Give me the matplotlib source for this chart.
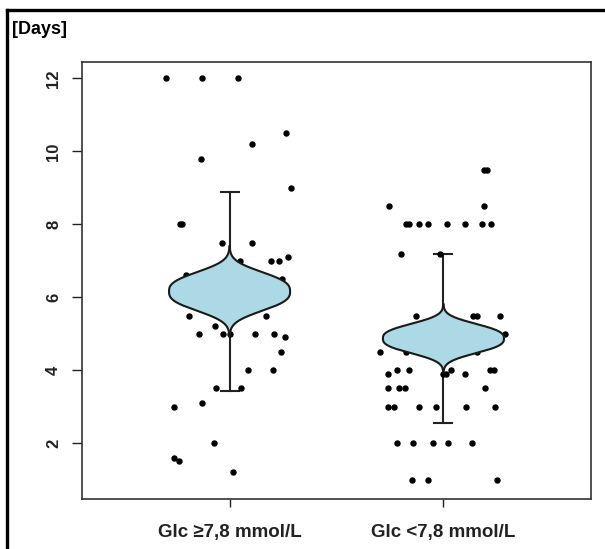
import numpy as np
import matplotlib.pyplot as plt
from matplotlib.lines import Line2D

plt.rcParams['font.family'] = ['Liberation Sans', 'DejaVu Sans']

# categories
groups = ['Glc \u22657,8 mmol/L', 'Glc <7,8 mmol/L']

# group 1 points (days) and jitter offsets from the group centre
g1_days = [12, 12, 12, 10.5, 10.2, 9.8, 9.0, 8.0, 8.0, 7.5, 7.5,
           7.0, 7.0, 7.0, 7.1, 6.6, 6.5, 5.5, 5.5, 5.2,
           5.0, 5.0, 5.0, 5.0, 5.0, 4.9, 4.5, 4.0, 4.0, 3.5, 3.5,
           3.1, 3.0, 2.0, 1.6, 1.5, 1.2]
g1_jit = [-0.298, -0.129, 0.040, 0.264, 0.107, -0.132, 0.286, -0.232, -0.222, -0.034, 0.105,
          0.049, 0.192, 0.233, 0.275, -0.203, 0.246, -0.189, 0.172, -0.066,
          -0.143, -0.033, 0.001, 0.120, 0.207, 0.260, 0.241, 0.085, 0.202, -0.062, 0.052,
          -0.127, -0.261, -0.074, -0.260, -0.235, 0.016]

# group 2 points
g2_days = [9.5, 9.5, 8.5, 8.5,
           8.0, 8.0, 8.0, 8.0, 8.0, 8.0, 8.0, 8.0,
           7.2, 7.2, 5.5, 5.5, 5.5, 5.5, 5.0,
           4.5, 4.5, 4.5, 4.0, 4.0, 4.0, 4.0, 4.0,
           3.9, 3.9, 3.9, 3.9, 3.5, 3.5, 3.5, 3.5,
           3.0, 3.0, 3.0, 3.0, 3.0, 3.0,
           2.0, 2.0, 2.0, 2.0, 2.0, 1.0, 1.0, 1.0]
g2_jit = [0.192, 0.206, -0.255, 0.189,
          -0.174, -0.160, -0.114, -0.070, 0.017, 0.101, 0.182, 0.223,
          -0.198, -0.015, -0.129, 0.140, 0.159, 0.265, 0.290,
          -0.296, -0.174, 0.156, -0.215, -0.159, 0.036, 0.218, 0.237,
          -0.259, 0.0, 0.013, 0.101, -0.259, -0.210, -0.182, 0.195,
          -0.259, -0.231, -0.114, -0.033, 0.105, 0.240,
          -0.215, -0.143, -0.048, 0.022, 0.133, -0.146, -0.072, 0.251]

# mean +/- SD (error bars) and extent of the mean's density "bean"
means = [6.16, 4.87]
sds = [2.73, 2.31]
bean_extent = [1.23, 0.93]
bean_halfwidth = 0.283

fig = plt.figure(figsize=(6.05, 5.49), dpi=100)
ax = fig.add_axes([82 / 605, 1 - 499 / 549, 509 / 605, 437 / 549])

# error bars
for i, (m, s) in enumerate(zip(means, sds)):
    x = i + 1
    ax.plot([x, x], [m - s, m + s], color='#222222', lw=1.5, zorder=1)
    ax.plot([x - 0.042, x + 0.042], [m + s, m + s], color='#222222', lw=1.5, zorder=1)
    ax.plot([x - 0.042, x + 0.042], [m - s, m - s], color='#222222', lw=1.5, zorder=1)

# points
ax.plot(1 + np.array(g1_jit), g1_days, 'o', color='black', ms=3.6, zorder=2)
ax.plot(2 + np.array(g2_jit), g2_days, 'o', color='black', ms=3.6, zorder=2)

# beans
for i, (m, e) in enumerate(zip(means, bean_extent)):
    x = i + 1
    yy = np.linspace(m - e, m + e, 400)
    t = np.abs(yy - m) / e
    w = bean_halfwidth * np.exp(-(t / 0.515) ** 2.7)
    ax.fill_betweenx(yy, x - w, x + w, color='#ADD8E6', lw=0, zorder=3)
    ax.plot(x - w, yy, color='#1a1a1a', lw=1.5, zorder=4)
    ax.plot(x + w, yy, color='#1a1a1a', lw=1.5, zorder=4)

ax.set_xlim(0.31, 2.69)
ax.set_ylim(0.47, 12.45)
ax.set_xticks([1, 2])
ax.set_xticklabels(groups, fontsize=13.5, fontweight='bold')
ax.set_yticks([2, 4, 6, 8, 10, 12])
ax.set_yticklabels(['2', '4', '6', '8', '10', '12'], fontsize=12, fontweight='bold',
                   rotation=90, va='center')
ax.tick_params(axis='y', length=7, width=1, pad=8, colors='#222222')
ax.tick_params(axis='x', length=6, width=1, pad=12, colors='#222222')
for sp in ax.spines.values():
    sp.set_linewidth(1.2)
    sp.set_color('#333333')

# frame around the figure (left and top edges)
fig.add_artist(Line2D([7 / 605, 7 / 605], [0, 1 - 10 / 549], color='black', lw=2.4))
fig.add_artist(Line2D([7 / 605, 1], [1 - 10 / 549, 1 - 10 / 549], color='black', lw=2.4))

fig.text(12 / 605, 1 - 30 / 549, '[Days]', fontsize=13, fontweight='bold', va='center')

fig.savefig('out.png', dpi=100)
